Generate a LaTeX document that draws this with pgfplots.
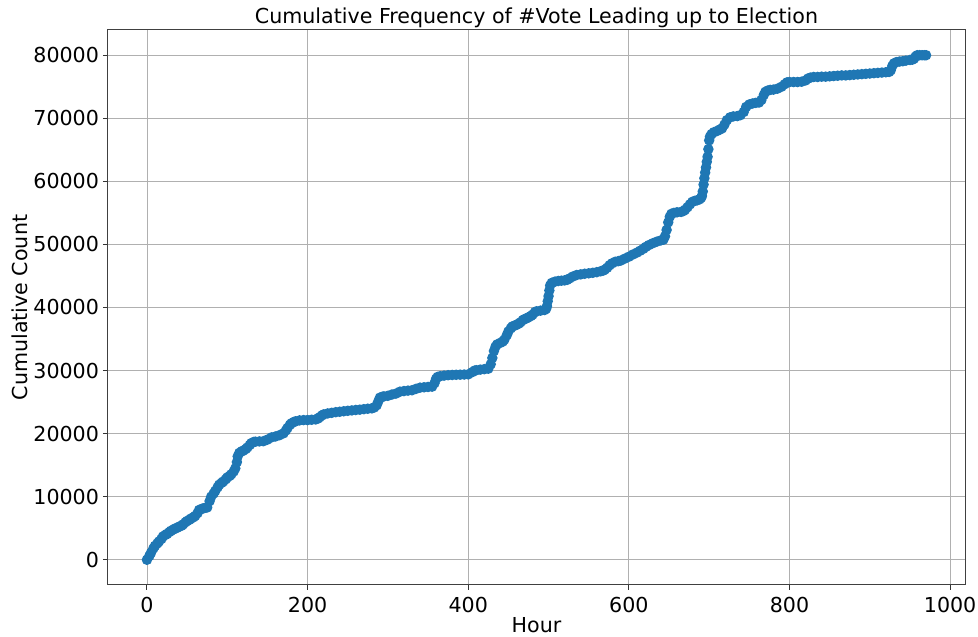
\documentclass[border=0pt]{standalone}
\usepackage{fontspec}
\setmainfont{DejaVu Sans}
\usepackage{pgfplots}
\usepackage{pgfplotstable}
\pgfplotsset{compat=1.18}

\definecolor{mplblue}{HTML}{1F77B4}
\definecolor{mplgrid}{HTML}{B0B0B0}

% Hourly cumulative count of #Vote posts
\pgfplotstableread{
hour count
0 0
3 600
5 1100
8 1800
10 2200
13 2600
15 2900
18 3300
20 3700
23 3950
25 4100
28 4400
30 4600
33 4800
35 4950
38 5100
40 5250
43 5400
45 5600
48 5950
50 6150
53 6350
55 6550
58 6750
60 6950
63 7400
65 7900
68 8050
70 8150
73 8250
75 8300
78 9300
80 10000
83 10500
85 10900
88 11500
90 11900
93 12200
95 12400
98 12750
100 13050
103 13300
105 13550
108 14000
110 14500
112 15500
113 16400
115 16950
118 17200
120 17300
123 17550
125 17800
128 18200
130 18500
133 18680
135 18720
140 18770
145 18800
150 19050
155 19400
160 19550
165 19750
170 20050
173 20500
175 20900
178 21400
180 21650
183 21850
185 21950
190 22100
195 22150
200 22150
205 22200
210 22250
213 22400
215 22600
218 22900
220 23050
225 23200
230 23300
235 23400
240 23470
245 23550
250 23620
255 23680
260 23750
265 23800
270 23880
275 23950
280 24010
283 24150
286 24500
288 25100
290 25700
293 25850
295 25900
300 26000
305 26200
310 26350
315 26650
320 26750
325 26820
330 26880
335 27100
340 27290
345 27350
350 27400
355 27450
358 28000
360 28700
362 29000
365 29100
370 29200
375 29270
380 29300
385 29330
390 29350
395 29370
400 29400
405 29750
408 30000
410 30050
415 30150
420 30220
425 30300
428 31000
430 32000
432 33100
434 33800
436 34150
440 34400
443 34600
445 34900
448 35600
450 36200
453 36700
455 37000
458 37150
460 37250
463 37450
465 37650
468 38000
470 38150
473 38300
475 38450
478 38650
480 38850
483 39250
485 39400
490 39500
495 39600
497 39800
498 40200
499 41000
500 41800
501 42700
502 43500
504 43900
508 44100
512 44200
516 44250
520 44300
523 44380
526 44600
530 44900
535 45150
540 45250
545 45350
550 45420
555 45500
560 45600
565 45750
568 45850
570 46000
573 46300
576 46700
579 47000
583 47250
587 47350
590 47450
595 47750
600 48050
605 48400
610 48700
614 49000
618 49300
621 49600
625 49900
630 50200
635 50450
640 50650
643 50750
645 51300
647 52300
649 53500
651 54400
653 54850
656 55000
660 55100
665 55150
668 55300
670 55500
673 55900
676 56350
679 56750
682 56900
685 57000
688 57150
690 57400
691 57700
692 58400
693 59500
694 60500
695 61400
696 62200
697 63100
698 63900
699 65100
700 66500
701 67100
703 67500
706 67800
710 68000
713 68200
716 68400
719 69000
722 69700
726 70150
730 70300
735 70350
739 70500
743 71000
746 71800
750 72200
754 72350
758 72450
762 72500
765 72900
768 73700
770 74200
773 74400
776 74500
780 74550
785 74700
790 75000
794 75400
797 75700
800 75750
805 75750
810 75750
815 75800
820 76000
823 76300
826 76450
830 76550
835 76550
840 76600
845 76600
850 76650
855 76700
860 76750
865 76800
870 76800
875 76850
880 76900
885 76950
890 77000
895 77050
900 77100
905 77150
910 77200
915 77250
920 77300
924 77350
926 77600
928 78300
930 78700
933 78900
937 79000
941 79050
945 79150
950 79250
953 79300
955 79450
957 79800
959 80000
962 80000
965 80000
968 80000
970 80000
}\votedata

\begin{document}
\begin{tikzpicture}
\begin{axis}[
  scale only axis,
  width=428.5pt, height=277.5pt,
  xmin=-48.5, xmax=1018.5,
  ymin=-4000, ymax=84000,
  xtick={0,200,...,1000},
  ytick={0,10000,...,80000},
  scaled ticks=false,
  xticklabel style={/pgf/number format/fixed, /pgf/number format/1000 sep={}},
  yticklabel style={xshift=1.5pt, /pgf/number format/fixed, /pgf/number format/1000 sep={}},
  /pgf/number format/assume math mode=true,
  tick label style={font=\fontsize{10.3pt}{12pt}\selectfont, text=black},
  label style={font=\fontsize{10.3pt}{12pt}\selectfont, text=black},
  title style={font=\fontsize{10.3pt}{12pt}\selectfont, text=black,
    at={(axis description cs:0.5,1.011)}, anchor=base, yshift=-6pt},
  title={Cumulative Frequency of \#Vote Leading up to Election},
  xlabel={Hour},
  ylabel={Cumulative Count},
  xlabel style={at={(axis description cs:0.5,-0.0847)}, anchor=base},
  ylabel style={at={(axis description cs:-0.0945,0.5)}, anchor=base},
  tick align=outside,
  tick pos=left,
  major tick length=2.5pt,
  every tick/.style={black!80, line width=0.5pt},
  axis line style={black!75, line width=0.5pt},
  grid=major,
  major grid style={mplgrid, line width=0.4pt},
]
\addplot[mplblue, line width=1pt, mark=*, mark size=2.1pt,
  mark options={draw=mplblue, fill=mplblue}]
  table[x=hour, y=count] {\votedata};
\coordinate (bl) at (rel axis cs:0,0);
\coordinate (tr) at (rel axis cs:1,1);
\end{axis}
\pgfresetboundingbox
\path[use as bounding box] ([xshift=-54pt,yshift=-25.5pt]bl) rectangle ([xshift=6.5pt,yshift=15pt]tr);
\end{tikzpicture}
\end{document}
